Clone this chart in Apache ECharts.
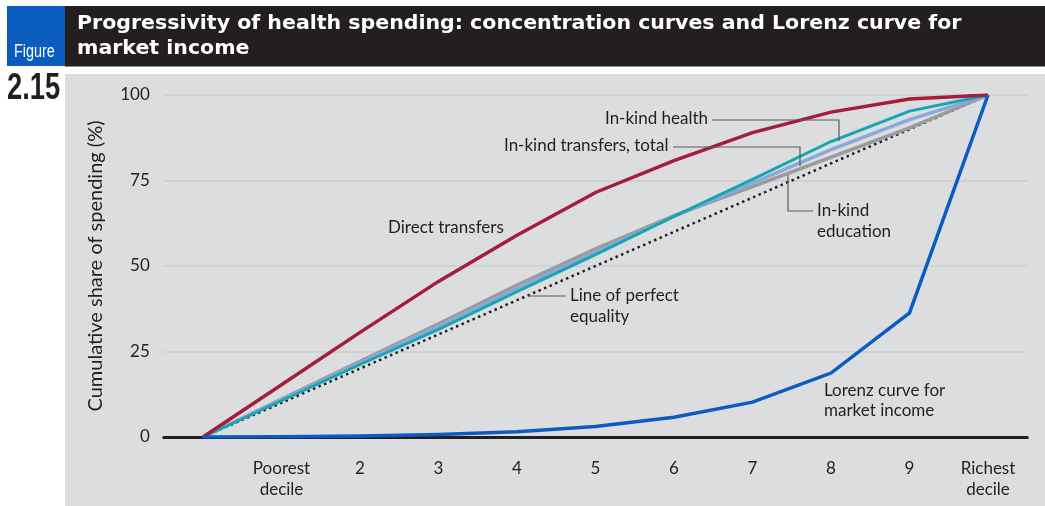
<!DOCTYPE html>
<html>
<head>
<meta charset="utf-8">
<script src="https://cdn.jsdelivr.net/npm/echarts@6/dist/echarts.min.js"></script>
<style>
  html, body { margin: 0; padding: 0; background: #ffffff; }
  #chart { width: 1045px; height: 506px; }
</style>
</head>
<body>
<div id="chart"></div>
<script>
// Cumulative share of spending (%) by income decile; the first point is the origin.
const deciles = ['', 'Poorest\ndecile', '2', '3', '4', '5', '6', '7', '8', '9', 'Richest\ndecile'];
const directTransfers   = [0, 15.3, 30.6, 45.5, 59, 71.5, 80.8, 89, 95, 98.8, 100];
const inKindHealth      = [0, 10.6, 21.2, 31.5, 42.5, 53.3, 64.5, 75.3, 86.4, 95.3, 100];
const inKindTotal       = [0, 10.9, 21.7, 32.4, 43.5, 54, 64.5, 74.2, 84, 92.8, 100];
const inKindEducation   = [0, 11.1, 22.1, 33.1, 44.4, 55, 64.7, 73.2, 81.8, 90.4, 100];
const perfectEquality   = [0, 10, 20, 30, 40, 50, 60, 70, 80, 90, 100];
const lorenzMarket      = [0, 0.1, 0.3, 0.7, 1.5, 3.1, 5.8, 10.2, 18.7, 36.3, 100];
const yTicks = [0, 25, 50, 75, 100];

const INK = '#231f20';
const FONT = 'Lato, "Open Sans", sans-serif';
const NARROW = '"Liberation Sans", Arial, sans-serif';
const HEAD = 'bold 19px "DejaVu Sans", sans-serif';

const chart = echarts.init(document.getElementById('chart'), null, { renderer: 'canvas' });

function lineSeries(name, data, color, width, z, type) {
  return {
    name: name,
    type: 'line',
    data: data,
    symbol: 'none',
    z: z,
    lineStyle: { color: color, width: width, type: type || 'solid', cap: 'butt', join: 'miter' },
    emphasis: { disabled: true },
    animation: false
  };
}

function note(x, y, text) {
  return {
    type: 'text', x: x, y: y, z: 20,
    style: { text: text, fill: INK, font: '17px ' + FONT, textVerticalAlign: 'middle' }
  };
}
function leader(points) {
  return {
    type: 'polyline', z: 20,
    shape: { points: points },
    style: { stroke: '#5a5a5c', lineWidth: 1.2, fill: null }
  };
}

const option = {
  backgroundColor: '#ffffff',
  animation: false,
  grid: { left: 163.75, right: 17.75, top: 95, bottom: 69 },
  xAxis: {
    type: 'category',
    data: deciles,
    boundaryGap: true,
    axisLine: { show: true, lineStyle: { color: INK, width: 3 } },
    axisTick: { show: false },
    axisLabel: { color: INK, fontFamily: FONT, fontSize: 17, lineHeight: 21, margin: 21, interval: 0 },
    splitLine: { show: false }
  },
  yAxis: {
    type: 'value',
    min: yTicks[0],
    max: yTicks[yTicks.length - 1],
    interval: 25,
    name: 'Cumulative share of spending (%)',
    nameLocation: 'middle',
    nameGap: 58,
    nameTextStyle: { color: INK, fontFamily: FONT, fontSize: 20 },
    axisLine: { show: false },
    axisTick: { show: false },
    axisLabel: { color: INK, fontFamily: FONT, fontSize: 17, margin: 14 },
    splitLine: { show: true, lineStyle: { color: '#cbcdcf', width: 1.5 } }
  },
  series: [
    lineSeries('Line of perfect equality', perfectEquality, INK, 2.5, 2, [2.5, 3.5]),
    lineSeries('In-kind education', inKindEducation, '#9b9b9d', 3.5, 3),
    lineSeries('In-kind transfers, total', inKindTotal, '#8aa8da', 3.5, 4),
    lineSeries('In-kind health', inKindHealth, '#16a6b2', 3, 5),
    lineSeries('Direct transfers', directTransfers, '#a51d3a', 3.5, 6),
    lineSeries('Lorenz curve for market income', lorenzMarket, '#0b5bc1', 3.5, 7)
  ],
  graphic: [
    // panel and header
    { type: 'rect', z: -10, shape: { x: 65, y: 74, width: 980, height: 432 }, style: { fill: '#dcdddf' }, silent: true },
    { type: 'rect', z: 10, shape: { x: 7, y: 6, width: 58, height: 60 }, style: { fill: '#0b5cbf' } },
    { type: 'rect', z: 10, shape: { x: 65, y: 6, width: 980, height: 60 }, style: { fill: INK } },
    { type: 'line', z: 10, shape: { x1: 65, y1: 66.5, x2: 1045, y2: 66.5 }, style: { stroke: '#8a8a8c', lineWidth: 1 } },
    { type: 'text', z: 11, x: 14, y: 52, scaleX: 0.8, style: { text: 'Figure', fill: '#ffffff', font: '18px ' + NARROW, textVerticalAlign: 'middle' } },
    { type: 'text', z: 11, x: 7, y: 89, scaleX: 0.76, style: { text: '2.15', fill: INK, font: 'bold 36px ' + NARROW, textVerticalAlign: 'middle' } },
    { type: 'text', z: 11, x: 77, y: 24, scaleX: 1.08, style: { text: 'Progressivity of health spending: concentration curves and Lorenz curve for', fill: '#ffffff', font: HEAD, textVerticalAlign: 'middle' } },
    { type: 'text', z: 11, x: 77, y: 49, scaleX: 1.08, style: { text: 'market income', fill: '#ffffff', font: HEAD, textVerticalAlign: 'middle' } },
    // series annotations
    note(605, 119, 'In-kind health'),
    leader([[712, 120], [839, 120], [839, 141]]),
    note(504, 146, 'In-kind transfers, total'),
    leader([[673, 147], [800, 147], [800, 166]]),
    note(817, 211, 'In-kind'),
    note(817, 232, 'education'),
    leader([[788, 175], [788, 211], [813, 211]]),
    note(388, 228, 'Direct transfers'),
    note(570, 296, 'Line of perfect'),
    note(570, 317, 'equality'),
    leader([[528, 296], [566, 296]]),
    note(824, 391, 'Lorenz curve for'),
    note(824, 411, 'market income')
  ]
};

chart.setOption(option);
</script>
</body>
</html>
